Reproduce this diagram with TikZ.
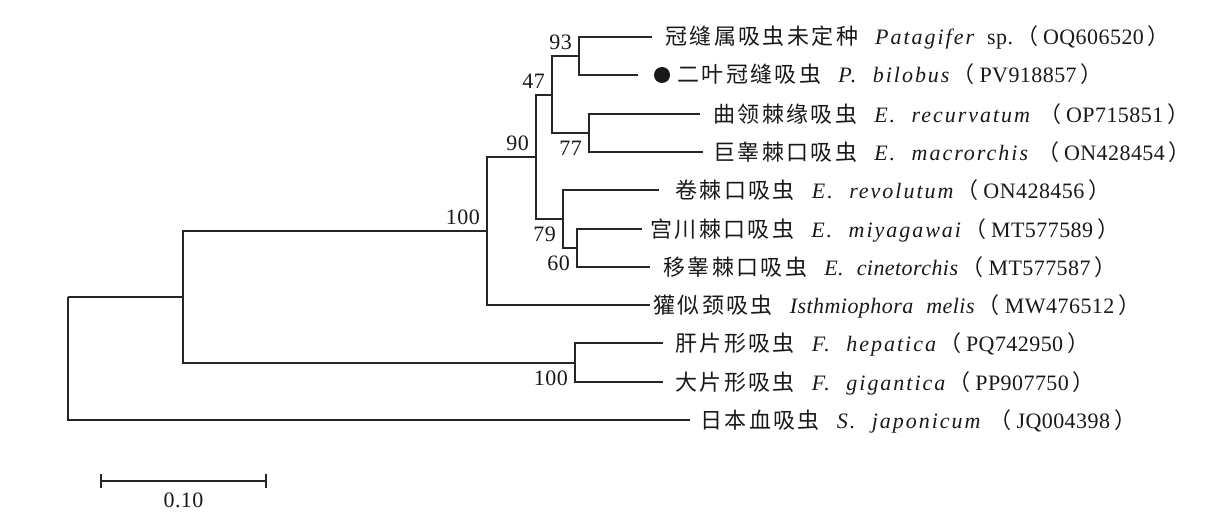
\documentclass[tikz,border=0pt]{standalone}
\usepackage{fontspec}
\setmainfont{Liberation Serif}[LetterSpace=2,WordSpace=2.2]
\newfontfamily\cjk{Noto Sans CJK SC}[LetterSpace=11]
\usepackage{tikz}
\usetikzlibrary{arrows.meta}
\newcommand{\zh}[1]{{\cjk #1}\hspace{17pt}}
\newcommand{\sci}[1]{{\itshape\addfontfeature{LetterSpace=9}#1}}
\newcommand{\lp}{\hspace{3pt}{\cjk （}\hspace{5pt}}
\newcommand{\rp}{\hspace{4pt}{\cjk ）}}

\begin{document}
\begin{tikzpicture}[x=1pt, y=-1pt,
    font=\fontsize{22}{26}\selectfont,
    branch/.style={draw=black!85, line width=1.6pt},
    leaf/.style={anchor=base west, inner sep=0pt, text=black!90},
    bsup/.style={anchor=south east, inner sep=0pt, xshift=-7pt, yshift=6pt, text=black!90},
    bsdown/.style={anchor=north east, inner sep=0pt, xshift=-7pt, yshift=-8pt, text=black!90}]
    \useasboundingbox (0,0) rectangle (1217,516);
    % inner nodes
    \coordinate (root) at (68,297);
    \coordinate (nB) at (183,297);
    \coordinate (n100) at (487,231);
    \coordinate (n90) at (536,157);
    \coordinate (n47) at (552,95);
    \coordinate (n93) at (579,56);
    \coordinate (n77) at (589,133);
    \coordinate (n79) at (563,219);
    \coordinate (n60) at (577,248);
    \coordinate (nF) at (575,363);
    % leaf ends
    \coordinate (l1) at (652,37);
    \coordinate (l2) at (638,75);
    \coordinate (l3) at (700,114);
    \coordinate (l4) at (703,152);
    \coordinate (l5) at (659,190);
    \coordinate (l6) at (642,229);
    \coordinate (l7) at (650,267);
    \coordinate (l8) at (650,305);
    \coordinate (l9) at (663,343);
    \coordinate (l10) at (663,382);
    \coordinate (l11) at (690,420);
    % branches
    \draw [branch] (root) |- (nB);
    \draw [branch] (root) |- (l11);
    \draw [branch] (nB) |- (n100);
    \draw [branch] (nB) |- (nF);
    \draw [branch] (n100) |- (n90);
    \draw [branch] (n100) |- (l8);
    \draw [branch] (n90) |- (n47);
    \draw [branch] (n90) |- (n79);
    \draw [branch] (n47) |- (n93);
    \draw [branch] (n47) |- (n77);
    \draw [branch] (n93) |- (l1);
    \draw [branch] (n93) |- (l2);
    \draw [branch] (n77) |- (l3);
    \draw [branch] (n77) |- (l4);
    \draw [branch] (n79) |- (l5);
    \draw [branch] (n79) |- (n60);
    \draw [branch] (n60) |- (l6);
    \draw [branch] (n60) |- (l7);
    \draw [branch] (nF) |- (l9);
    \draw [branch] (nF) |- (l10);
    % bootstrap values
    \node [bsup] (b93) at (n93) {93};
    \node [bsup] (b47) at (n47) {47};
    \node [bsup] (b90) at (n90) {90};
    \node [bsup] (b100) at (n100) {100};
    \node [bsdown] (b77) at (n77) {77};
    \node [bsdown] (b79) at (n79) {79};
    \node [bsdown] (b60) at (n60) {60};
    \node [bsdown] (bF) at (nF) {100};
    % taxa
    \node [circle, fill=black!90, inner sep=0pt, minimum size=16pt] (dot) at (662,75) {};
    \node [leaf] (t1) at (665,45) {\zh{冠缝属吸虫未定种}\sci{Patagifer} sp.\lp OQ606520\rp};
    \node [leaf] (t2) at (677,83) {\zh{二叶冠缝吸虫}\sci{P. bilobus}\lp PV918857\rp};
    \node [leaf] (t3) at (713,122) {\zh{曲领棘缘吸虫}\sci{E. recurvatum}\hspace{6pt}\lp OP715851\rp};
    \node [leaf] (t4) at (713,160) {\zh{巨睾棘口吸虫}\sci{E. macrorchis}\hspace{6pt}\lp ON428454\rp};
    \node [leaf] (t5) at (675,198) {\zh{卷棘口吸虫}\sci{E. revolutum}\lp ON428456\rp};
    \node [leaf] (t6) at (650,237) {\zh{宫川棘口吸虫}\sci{E. miyagawai}\lp MT577589\rp};
    \node [leaf] (t7) at (663,275) {\zh{移睾棘口吸虫}\textit{E. cinetorchis}\lp MT577587\rp};
    \node [leaf] (t8) at (653,313) {\zh{獾似颈吸虫}\textit{Isthmiophora melis}\lp MW476512\rp};
    \node [leaf] (t9) at (675,351) {\zh{肝片形吸虫}\sci{F. hepatica}\lp PQ742950\rp};
    \node [leaf] (t10) at (675,390) {\zh{大片形吸虫}\sci{F. gigantica}\lp PP907750\rp};
    \node [leaf] (t11) at (700,428) {\zh{日本血吸虫}\sci{S. japonicum}\hspace{6pt}\lp JQ004398\rp};
    % scale bar
    \coordinate (s0) at (100,481);
    \coordinate (s1) at (267,481);
    \draw [branch, {Bar[width=14pt]}-{Bar[width=14pt]}] (s0) -- (s1);
    \node [anchor=base, inner sep=0pt, text=black!90] (sl) at (183.5,507) {0.10};
\end{tikzpicture}
\end{document}
